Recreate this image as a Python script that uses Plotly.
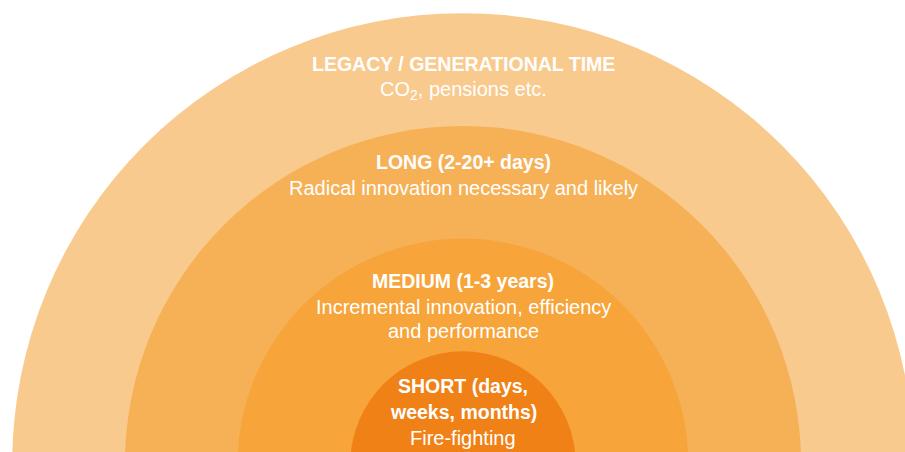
import plotly.graph_objects as go

# ---- data ----
ring_levels = [4, 3, 2, 1]  # outer to inner
ring_titles = [
    ["LEGACY / GENERATIONAL TIME"],
    ["LONG (2-20+ days)"],
    ["MEDIUM (1-3 years)"],
    ["SHORT (days,", "weeks, months)"],
]
ring_subtitles = [
    ["CO<sub>2</sub>, pensions etc."],
    ["Radical innovation necessary and likely"],
    ["Incremental innovation, efficiency", "and performance"],
    ["Fire-fighting"],
]
ring_colors = ["#F9CA8E", "#F6B157", "#F7A43A", "#F08117"]

# ---- layout geometry (pixels) ----
W, H = 905, 452
CX, CY = 463, 464
UNIT = 112.7
first_line_y = [64, 162, 281, 386]
LINE = 25.5

fig = go.Figure()
shapes = []
for lvl, col in zip(ring_levels, ring_colors):
    r = lvl * UNIT
    shapes.append(dict(type="circle", xref="x", yref="y",
                       x0=CX - r, x1=CX + r, y0=CY - r, y1=CY + r,
                       fillcolor=col, line=dict(width=0), layer="below"))

annotations = []
for i in range(len(ring_levels)):
    y = first_line_y[i]
    for t in ring_titles[i]:
        annotations.append(dict(x=CX, y=y, xref="x", yref="y", text="<b>" + t + "</b>",
                                showarrow=False, xanchor="center", yanchor="middle",
                                font=dict(family="Liberation Sans, Arial", size=19.5, color="white")))
        y += LINE + 0.5
    for t in ring_subtitles[i]:
        annotations.append(dict(x=CX, y=y, xref="x", yref="y", text=t,
                                showarrow=False, xanchor="center", yanchor="middle",
                                font=dict(family="Liberation Sans, Arial", size=20, color="white")))
        y += LINE - 1.5

fig.add_trace(go.Scatter(x=[0, W], y=[0, H], mode="markers", marker=dict(opacity=0, size=1),
                         hoverinfo="skip", showlegend=False))

fig.update_layout(
    width=W, height=H, margin=dict(l=0, r=0, t=0, b=0),
    paper_bgcolor="white", plot_bgcolor="white",
    shapes=shapes, annotations=annotations, showlegend=False,
    xaxis=dict(range=[0, W], visible=False, fixedrange=True),
    yaxis=dict(range=[H, 0], visible=False, fixedrange=True),
)
fig.write_html("out.html", config={"displayModeBar": False},
               post_script="document.body.style.margin='0';document.body.style.overflow='hidden';")
